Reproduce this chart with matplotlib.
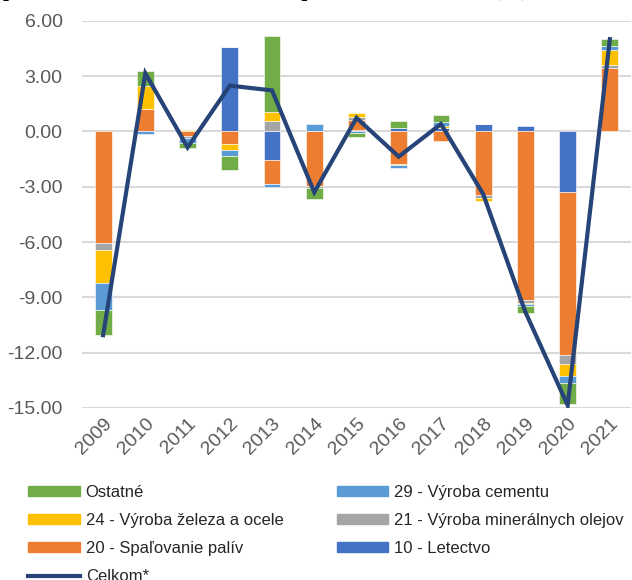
import numpy as np
import matplotlib
matplotlib.use("Agg")
import matplotlib.pyplot as plt
from matplotlib.patches import Patch
from matplotlib.lines import Line2D

plt.rcParams['font.family'] = ['Liberation Sans', 'DejaVu Sans']

# roky
years = ['2009', '2010', '2011', '2012', '2013', '2014', '2015',
         '2016', '2017', '2018', '2019', '2020', '2021']

# príspevky sektorov (%)
letectvo = [0, 0, 0, 4.58, -1.54, 0, 0.08, 0.2, 0.18, 0.42, 0.3, -3.28, 0]
spalovanie = [-6.06, 1.2, -0.25, -0.68, -1.32, -2.95, 0.55, -1.75, -0.5, -3.47, -9.14, -8.86, 3.42]
mineralne_oleje = [-0.37, 0, -0.09, 0, 0.58, -0.13, 0.17, 0, 0, -0.15, -0.15, -0.49, 0.2]
zelezo_ocel = [-1.81, 1.27, 0.08, -0.33, 0.49, 0, 0.2, -0.09, 0.09, -0.14, -0.09, -0.63, 0.81]
cement = [-1.45, -0.14, -0.3, -0.31, -0.13, 0.4, -0.1, -0.13, 0.22, 0, -0.07, -0.36, 0.18]
ostatne = [-1.37, 0.81, -0.27, -0.78, 4.12, -0.6, -0.22, 0.36, 0.38, 0, -0.42, -1.17, 0.4]
celkom = [-11.05, 3.15, -0.87, 2.48, 2.22, -3.3, 0.73, -1.37, 0.4, -3.4, -9.8, -14.85, 5.0]

series_names = ['10 - Letectvo', '20 - Spaľovanie palív', '21 - Výroba minerálnych olejov',
                '24 - Výroba železa a ocele', '29 - Výroba cementu', 'Ostatné']
series_vals = [letectvo, spalovanie, mineralne_oleje, zelezo_ocel, cement, ostatne]
colors = ['#4472C4', '#ED7D31', '#A5A5A5', '#FFC000', '#5B9BD5', '#70AD47']
line_color = '#264478'

fig = plt.figure(figsize=(6.32, 5.8), dpi=100)
ax = fig.add_axes([82 / 632, 1 - 408 / 580, 549 / 632, (408 - 20.7) / 580])

x = np.arange(len(years))
pos = np.zeros(len(years))
neg = np.zeros(len(years))
for name, vals, c in zip(series_names, series_vals, colors):
    v = np.array(vals, dtype=float)
    bottom = np.where(v >= 0, pos, neg)
    ax.bar(x, v, 0.4, bottom=bottom, color=c, edgecolor='white', linewidth=0.4, zorder=2)
    pos = pos + np.where(v > 0, v, 0)
    neg = neg + np.where(v < 0, v, 0)

ax.plot(x, celkom, color=line_color, linewidth=3, zorder=3, solid_joinstyle='miter')

ax.set_xlim(-0.5, len(years) - 0.5)
ax.set_ylim(-15, 6)
ax.set_yticks(np.arange(-15, 7, 3))
ax.set_yticklabels(['%.2f' % t for t in np.arange(-15, 7, 3)])
ax.set_xticks(x)
ax.set_xticklabels(years, rotation=45, ha='right', va='top', rotation_mode='anchor')
ax.grid(axis='y', color='#D9D9D9', linewidth=1.5, zorder=0)
ax.set_axisbelow(True)
for s in ax.spines.values():
    s.set_visible(False)
ax.tick_params(axis='both', length=0, labelsize=14, colors='#595959')
ax.tick_params(axis='y', pad=14)
ax.tick_params(axis='x', pad=5)

# nadpis (v predlohe orezaný hore, vidno len spodok)
fig.text(0.005, 1.007, 'podiel sektorov na zmene emisií oproti minulému roku (%)',
         fontsize=15, fontweight='bold', family='Liberation Serif', va='baseline', ha='left')

# legenda
handles = {
    'Ostatné': Patch(color=colors[5]),
    '29 - Výroba cementu': Patch(color=colors[4]),
    '24 - Výroba železa a ocele': Patch(color=colors[3]),
    '21 - Výroba minerálnych olejov': Patch(color=colors[2]),
    '20 - Spaľovanie palív': Patch(color=colors[1]),
    '10 - Letectvo': Patch(color=colors[0]),
    'Celkom*': Line2D([], [], color=line_color, linewidth=3),
}
order = ['Ostatné', '24 - Výroba železa a ocele', '20 - Spaľovanie palív', 'Celkom*',
         '29 - Výroba cementu', '21 - Výroba minerálnych olejov', '10 - Letectvo']
fig.legend([handles[k] for k in order], order, ncol=2, loc='upper left',
           bbox_to_anchor=(28 / 632, 1 - 485 / 580), frameon=False, fontsize=12,
           handlelength=3.1, handleheight=0.5, handletextpad=0.36, labelspacing=0.78,
           columnspacing=3.2, borderpad=0, borderaxespad=0, labelcolor='#262626')

fig.savefig('out.png', dpi=100)
